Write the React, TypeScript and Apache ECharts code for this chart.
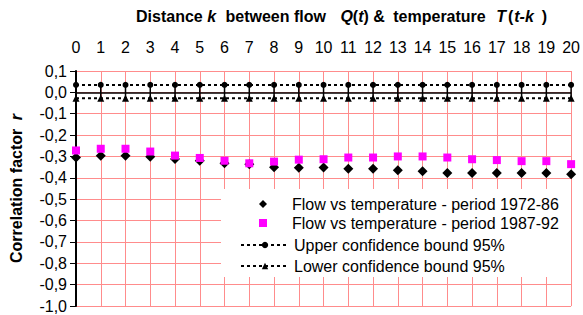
import React, { useEffect, useRef } from "react";
import * as echarts from "echarts";

const lags = [0, 1, 2, 3, 4, 5, 6, 7, 8, 9, 10, 11, 12, 13, 14, 15, 16, 17, 18, 19, 20];
const flow1972 = [-0.305, -0.297, -0.297, -0.301, -0.312, -0.32, -0.332, -0.336, -0.35, -0.353, -0.352, -0.358, -0.358, -0.365, -0.369, -0.377, -0.377, -0.377, -0.377, -0.377, -0.383];
const flow1987 = [-0.272, -0.264, -0.264, -0.277, -0.296, -0.307, -0.32, -0.332, -0.324, -0.315, -0.313, -0.305, -0.305, -0.3, -0.3, -0.305, -0.313, -0.317, -0.322, -0.322, -0.336];
const upperBound = [0.035, 0.035, 0.035, 0.035, 0.035, 0.035, 0.035, 0.035, 0.035, 0.035, 0.035, 0.035, 0.035, 0.035, 0.035, 0.035, 0.035, 0.035, 0.035, 0.035, 0.035];
const lowerBound = [-0.027, -0.027, -0.027, -0.027, -0.027, -0.027, -0.027, -0.027, -0.027, -0.027, -0.027, -0.027, -0.027, -0.027, -0.027, -0.027, -0.027, -0.027, -0.027, -0.027, -0.027];
const seriesNames = [
  "Flow vs temperature - period 1972-86",
  "Flow vs temperature - period 1987-92",
  "Upper confidence bound 95%",
  "Lower confidence bound 95%",
];

const FONT = "'Liberation Sans', Arial, sans-serif";
const GRID = "#FF8C8C";

const bold = (pl = 0, pr = 0) => ({ fontFamily: FONT, fontSize: 16, fontWeight: "bold", color: "#000", padding: [0, pr, 0, pl] });
const boldIt = (pl = 0, pr = 0) => ({ ...bold(pl, pr), fontStyle: "italic" });

export default function App() {
  const ref = useRef<HTMLDivElement>(null);
  useEffect(() => {
    if (!ref.current) return;
    const chart = echarts.init(ref.current, undefined, { renderer: "svg" });
    const pair = (arr: number[]) => lags.map((k, i) => [k, arr[i]]);
    const option: any = {
      animation: false,
      textStyle: { fontFamily: FONT },
      title: {
        text:
          "{a|Distance }{k|k}{b| between flow }{q|Q}{c|(}{t|t}{d|) & }{e|temperature }{T|T}{f|(}{tk|t-k}{g|)}",
        left: 136,
        top: 8,
        padding: 0,
        textStyle: {
          rich: {
            a: bold(),
            k: boldIt(0, 5),
            b: bold(),
            q: boldIt(10, 0),
            c: bold(),
            t: boldIt(),
            d: bold(),
            e: bold(4, 0),
            T: boldIt(6, 0),
            f: bold(2, 0),
            tk: boldIt(1, 0),
            g: bold(8, 0),
          },
        },
      },
      grid: { left: 76, right: 10, top: 71, bottom: 9, containLabel: false },
      xAxis: {
        type: "value",
        position: "top",
        min: 0,
        max: 20,
        interval: 1,
        axisLine: { show: false },
        axisTick: { show: false },
        axisLabel: { color: "#000", fontSize: 16, fontFamily: FONT, margin: 16 },
        splitLine: { show: true, lineStyle: { color: GRID, width: 1 } },
      },
      yAxis: {
        type: "value",
        min: -1,
        max: 0.1,
        interval: 0.1,
        name: "{b|Correlation factor }{bi|r}",
        nameLocation: "middle",
        nameGap: 52,
        nameRotate: 90,
        nameTextStyle: { rich: { b: bold(), bi: boldIt(4, 0) } },
        axisLine: { show: true, onZero: false, lineStyle: { color: "#000", width: 2 } },
        axisTick: { show: true, inside: false, length: 6, lineStyle: { color: "#000", width: 1 } },
        axisLabel: {
          color: "#000",
          fontSize: 16,
          fontFamily: FONT,
          margin: 9,
          formatter: (v: number) => (Math.round(v * 10) / 10).toFixed(1).replace(".", ","),
        },
        splitLine: { show: true, lineStyle: { color: GRID, width: 1 } },
      },
      graphic: {
        elements: [
          {
            type: "rect",
            z: 1,
            silent: true,
            shape: { x: 221, y: 189, width: 350, height: 88 },
            style: { fill: "#fff" },
          },
        ],
      },
      legend: [
        {
          orient: "vertical",
          left: 259,
          top: 196,
          padding: 0,
          itemWidth: 8,
          itemHeight: 8,
          itemGap: 3,
          textStyle: { fontSize: 16, color: "#000", fontFamily: FONT, padding: [0, 0, 0, 20] },
          data: [seriesNames[0], seriesNames[1]],
        },
        {
          orient: "vertical",
          left: 240,
          top: 237,
          padding: 0,
          itemWidth: 48,
          itemHeight: 8,
          itemGap: 5,
          textStyle: { fontSize: 16, color: "#000", fontFamily: FONT },
          data: [seriesNames[2], seriesNames[3]],
        },
      ],
      series: [
        {
          type: "custom",
          silent: true,
          z: 2,
          data: lags.map((k, i) => [k, upperBound[i], lowerBound[i]]),
          renderItem: (params: any, api: any) => {
            const p1 = api.coord([api.value(0), api.value(1)]);
            const p2 = api.coord([api.value(0), api.value(2)]);
            return {
              type: "line",
              shape: { x1: p1[0], y1: p1[1], x2: p2[0], y2: p2[1] },
              style: { stroke: "#000", lineWidth: 1.5 },
            };
          },
          markLine: {
            silent: true,
            symbol: "none",
            label: { show: false },
            lineStyle: { color: "#000", width: 1.5, type: "solid" },
            data: [{ yAxis: 0 }],
          },
        },
        {
          name: seriesNames[2],
          type: "line",
          data: pair(upperBound),
          symbol: "circle",
          symbolSize: 6,
          itemStyle: { color: "#000" },
          lineStyle: { color: "#000", width: 2, type: [3, 3] },
          z: 3,
        },
        {
          name: seriesNames[3],
          type: "line",
          data: pair(lowerBound),
          symbol: "triangle",
          symbolSize: 7,
          itemStyle: { color: "#000" },
          lineStyle: { color: "#000", width: 2, type: [3, 3] },
          z: 3,
        },
        {
          name: seriesNames[0],
          type: "scatter",
          data: pair(flow1972),
          symbol: "diamond",
          symbolSize: 10,
          itemStyle: { color: "#000", opacity: 1 },
          z: 4,
        },
        {
          name: seriesNames[1],
          type: "scatter",
          data: pair(flow1987),
          symbol: "rect",
          symbolSize: 8,
          itemStyle: { color: "#FF00FF", opacity: 1 },
          z: 5,
        },
      ],
    };
    chart.setOption(option);
    return () => chart.dispose();
  }, []);
  return <div ref={ref} style={{ width: 583, height: 315, position: "absolute", left: 0, top: 0 }} />;
}
